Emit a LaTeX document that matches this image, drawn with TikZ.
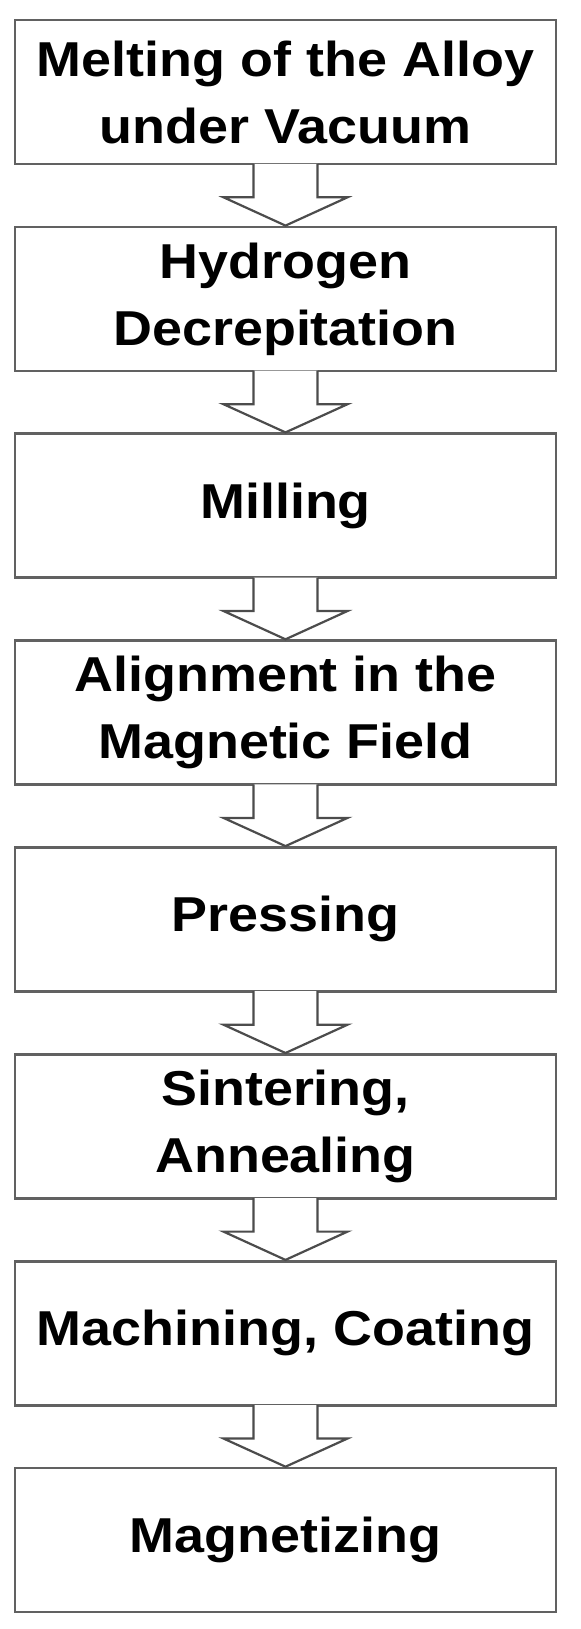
\documentclass[tikz,border=0pt]{standalone}
\usepackage{fontspec}
\setmainfont{Liberation Sans}[FakeStretch=1.1]
\usetikzlibrary{calc}

\begin{document}
\begin{tikzpicture}[x=0.5pt, y=-0.5pt,
  stepbox/.style={draw=black!62, line width=1.3pt, minimum width=270.5pt, minimum height=72pt,
    inner sep=0pt, align=center, font=\fontsize{24.5}{33.5}\selectfont\bfseries},
  blockarr/.style={draw=black!70, line width=1.1pt, fill=white, line join=miter}
]
\useasboundingbox (0,0) rectangle (581,1629);
\node[stepbox] (melt) at (285.5,92) {Melting of the Alloy\\under Vacuum};
\node[stepbox] (hydro) at (285.5,298.9) {Hydrogen\\Decrepitation};
\node[stepbox] (mill) at (285.5,505.7) {Milling};
\node[stepbox] (align) at (285.5,712.6) {Alignment in the\\Magnetic Field};
\node[stepbox] (press) at (285.5,919.4) {Pressing};
\node[stepbox] (sinter) at (285.5,1126.3) {Sintering,\\Annealing};
\node[stepbox] (machine) at (285.5,1333.2) {Machining, Coating};
\node[stepbox] (magnet) at (285.5,1540) {Magnetizing};
% hollow block arrows between the steps
\foreach \a/\b in {melt/hydro, hydro/mill, mill/align, align/press,
                   press/sinter, sinter/machine, machine/magnet}
  \draw[blockarr] ($(\a.south)+(-32,-1.5)$) -- ++(0,33.5) -- ++(-30,0) -- (\b.north)
    -- ($(\a.south)+(62,32)$) -- ++(-30,0) -- ++(0,-33.5);
\end{tikzpicture}
\end{document}
